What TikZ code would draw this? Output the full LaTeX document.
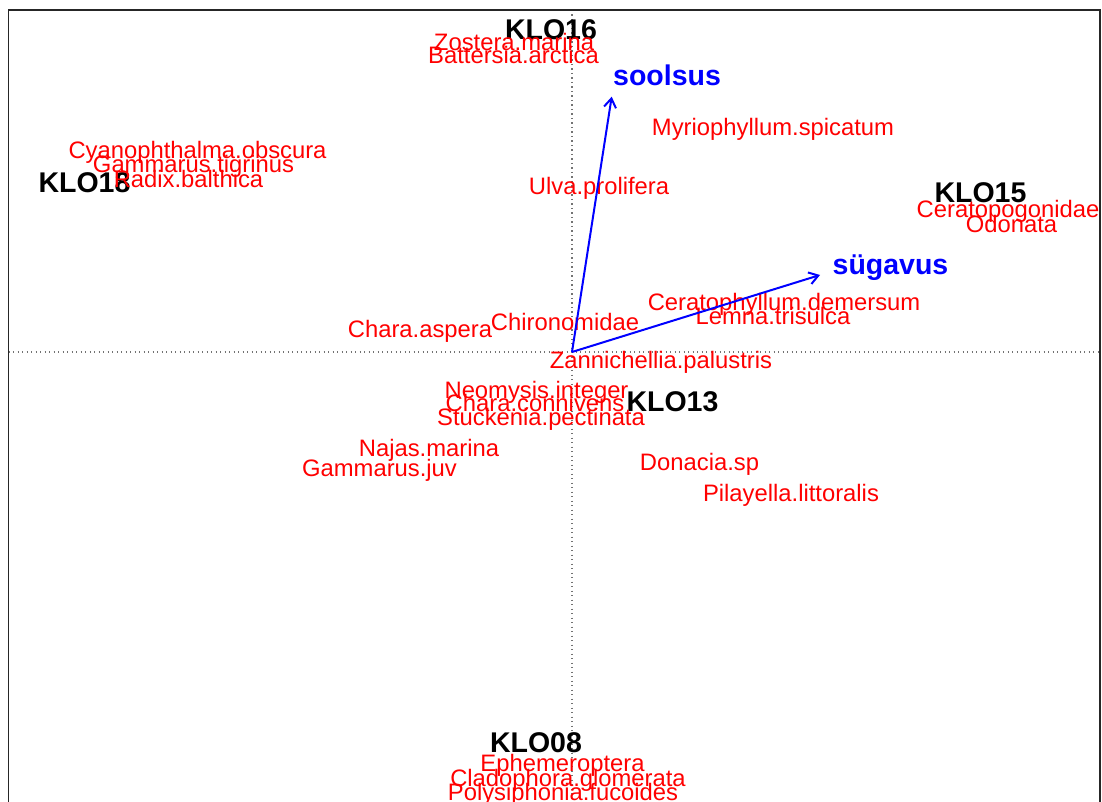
\documentclass[tikz,border=0pt]{standalone}
\usepackage{fontspec}
\setmainfont{Liberation Sans}
\usetikzlibrary{arrows.meta}
\definecolor{spred}{RGB}{255,0,0}
\definecolor{vecblue}{RGB}{0,0,255}
\tikzset{
  sp/.style={anchor=base, inner sep=0pt, text=spred, font=\fontsize{23.8}{24}\selectfont},
  site/.style={anchor=base, inner sep=0pt, text=black, font=\fontsize{28.5}{29}\selectfont\bfseries},
  envlab/.style={anchor=base, inner sep=0pt, text=vecblue, font=\fontsize{28.5}{29}\selectfont\bfseries},
  envvec/.style={draw=vecblue, line width=2pt, -{Straight Barb[length=9pt,width=12pt]}},
  axisline/.style={draw=black!55, line width=1.1pt, dash pattern=on 1.1pt off 3.4pt},
  frame/.style={draw=black!85, line width=1.6pt}
}
\begin{document}
\begin{tikzpicture}[x=1pt,y=-1pt]
\useasboundingbox (0,0) rectangle (1102,802);
% axes
\draw[axisline] (572,10) -- (572,802);
\draw[axisline] (8.5,352) -- (1100,352);
% frame
\draw[frame] (8.5,802) -- (8.5,10) -- (1100,10) -- (1100,802);
% sites
\node[site] (k16) at (551,40) {KLO16};
\node[site] (k18) at (84.5,193) {KLO18};
\node[site] (k15) at (980.5,203) {KLO15};
\node[site] (k13) at (672.5,411.7) {KLO13};
\node[site] (k08) at (536,752) {KLO08};
% species
\node[sp] (zm) at (514,51) {Zostera.marina};
\node[sp] (ba) at (513.5,64) {Battersia.arctica};
\node[sp] (ms) at (773,136) {Myriophyllum.spicatum};
\node[sp] (up) at (599,195) {Ulva.prolifera};
\node[sp] (co) at (197.5,159) {Cyanophthalma.obscura};
\node[sp] (gt) at (193.5,173) {Gammarus.tigrinus};
\node[sp] (rb) at (188.5,188) {Radix.balthica};
\node[sp] (cg) at (1008,218) {Ceratopogonidae};
\node[sp] (od) at (1011.5,233) {Odonata};
\node[sp] (cd) at (784,310) {Ceratophyllum.demersum};
\node[sp] (lt) at (773,324) {Lemna.trisulca};
\node[sp] (ca) at (420,337) {Chara.aspera};
\node[sp] (ch) at (565,330) {Chironomidae};
\node[sp] (zp) at (661,368) {Zannichellia.palustris};
\node[sp] (ni) at (536.5,398) {Neomysis.integer};
\node[sp] (cc) at (535,411.7) {Chara.connivens};
\node[sp] (spc) at (541,425) {Stuckenia.pectinata};
\node[sp] (nm) at (429,456.5) {Najas.marina};
\node[sp] (gj) at (379.5,476) {Gammarus.juv};
\node[sp] (ds) at (699.5,470) {Donacia.sp};
\node[sp] (pl) at (791,501.5) {Pilayella.littoralis};
\node[sp] (ep) at (562.5,771) {Ephemeroptera};
\node[sp] (clg) at (568,786) {Cladophora.glomerata};
\node[sp] (pf) at (563,800.5) {Polysiphonia.fucoides};
% environmental vectors
\coordinate (orig) at (572,352);
\coordinate (tipS) at (611.7,96.7);
\coordinate (tipD) at (820,275);
\draw[envvec] (orig) -- (tipS);
\draw[envvec] (orig) -- (tipD);
\node[envlab] (sool) at (667,86) {soolsus};
\node[envlab] (sug) at (890.5,274) {sügavus};
\end{tikzpicture}
\end{document}
